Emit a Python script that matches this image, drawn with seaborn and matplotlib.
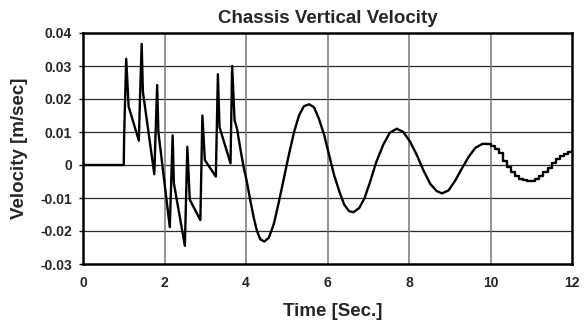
import matplotlib
matplotlib.use("Agg")
import matplotlib.pyplot as plt
import seaborn as sns
import pandas as pd

# ---- data ----
time_main = [0.00, 1.00, 1.01, 1.06, 1.12, 1.37, 1.40, 1.44, 1.47, 1.75, 1.78, 1.82,
             1.85, 2.13, 2.20, 2.23, 2.50, 2.56, 2.62, 2.88, 2.93, 2.99, 3.26, 3.31,
             3.35, 3.62, 3.66, 3.72, 3.78, 3.86, 3.94, 4.02, 4.11, 4.19, 4.27, 4.35,
             4.45, 4.56, 4.68, 4.81, 4.93, 5.05, 5.18, 5.30, 5.42, 5.55, 5.67, 5.79,
             5.92, 6.04, 6.16, 6.29, 6.41, 6.53, 6.64, 6.78, 6.91, 7.04, 7.20, 7.37,
             7.53, 7.70, 7.86, 8.02, 8.19, 8.35, 8.52, 8.68, 8.81, 8.97, 9.14, 9.30,
             9.47, 9.63, 9.80, 9.90]
vel_main = [0.0, 0.0, 0.009, 0.0322, 0.0177, 0.0074, 0.021, 0.0367, 0.0222, -0.0028, 0.0092, 0.0242,
            0.010, -0.0188, 0.009, -0.0055, -0.0245, 0.0055, -0.0105, -0.0167, 0.015, 0.0015, -0.0035, 0.0275,
            0.0115, 0.0005, 0.030, 0.0135, 0.011, 0.005, -0.0005, -0.005, -0.011, -0.016, -0.020, -0.0225,
            -0.0232, -0.022, -0.018, -0.011, -0.004, 0.003, 0.010, 0.015, 0.0178, 0.0184, 0.0175, 0.014,
            0.009, 0.003, -0.003, -0.008, -0.012, -0.014, -0.0143, -0.013, -0.010, -0.0053, 0.001, 0.0062,
            0.0098, 0.011, 0.010, 0.0072, 0.0031, -0.0015, -0.0057, -0.0079, -0.0086, -0.0077, -0.0046, -0.001,
            0.0026, 0.0052, 0.0064, 0.0064]

time_tail = [9.9, 10.0, 10.1, 10.2, 10.3, 10.4, 10.5, 10.6, 10.7, 10.8, 10.9,
             11.0, 11.1, 11.2, 11.3, 11.4, 11.5, 11.6, 11.7, 11.8, 11.9, 12.0]
vel_tail = [0.0064, 0.0059, 0.0050, 0.0036, 0.0012, -0.0005, -0.0020, -0.0033, -0.0041, -0.0046, -0.0048,
            -0.0047, -0.0042, -0.0034, -0.0020, -0.0008, 0.0005, 0.0017, 0.0027, 0.0033, 0.0038, 0.0042]

x_ticks = [0, 2, 4, 6, 8, 10, 12]
y_ticks = [-0.03, -0.02, -0.01, 0, 0.01, 0.02, 0.03, 0.04]
y_tick_labels = ["-0.03", "-0.02", "-0.01", "0", "0.01", "0.02", "0.03", "0.04"]

sns.set_style("white")
plt.rcParams['font.family'] = ['Liberation Sans', 'DejaVu Sans']

fig = plt.figure(figsize=(5.85, 3.22), dpi=100)
ax = fig.add_axes([83/585, 1 - 264/322, (572-83)/585, (264-33)/322])

df_main = pd.DataFrame({"t": time_main, "v": vel_main})
df_tail = pd.DataFrame({"t": time_tail, "v": vel_tail})

sns.lineplot(data=df_main, x="t", y="v", ax=ax, sort=False, estimator=None,
             color="black", linewidth=1.7, zorder=3)
sns.lineplot(data=df_tail, x="t", y="v", ax=ax, sort=False, estimator=None,
             color="black", linewidth=1.7, drawstyle="steps-post", zorder=3)

ax.set_xlim(0, 12)
ax.set_ylim(-0.03, 0.04)
ax.set_xticks(x_ticks)
ax.set_xticklabels([str(v) for v in x_ticks], fontsize=10, fontweight="bold")
ax.set_yticks(y_ticks)
ax.set_yticklabels(y_tick_labels, fontsize=10, fontweight="bold")

for y in y_ticks[1:-1]:
    ax.axhline(y, color="#2a2a2a", linewidth=0.9, zorder=1)
for x in x_ticks[1:-1]:
    ax.axvline(x, color="#777777", linewidth=1.1, zorder=1)

for s in ax.spines.values():
    s.set_color("black")
    s.set_linewidth(1.8)

ax.tick_params(axis="y", which="both", left=True, length=3, width=1, pad=5, color="black")
ax.tick_params(axis="x", which="both", bottom=False, pad=5)

ax.set_title("Chassis Vertical Velocity", fontsize=13.5, fontweight="bold", pad=7)
ax.set_xlabel("Time [Sec.]", fontsize=13.5, fontweight="bold")
ax.set_ylabel("Velocity [m/sec]", fontsize=13.5, fontweight="bold", labelpad=9)
ax.xaxis.set_label_coords(0.51, -0.225)
ax.xaxis.label.set_va("baseline")

fig.savefig("out.png", dpi=100)
